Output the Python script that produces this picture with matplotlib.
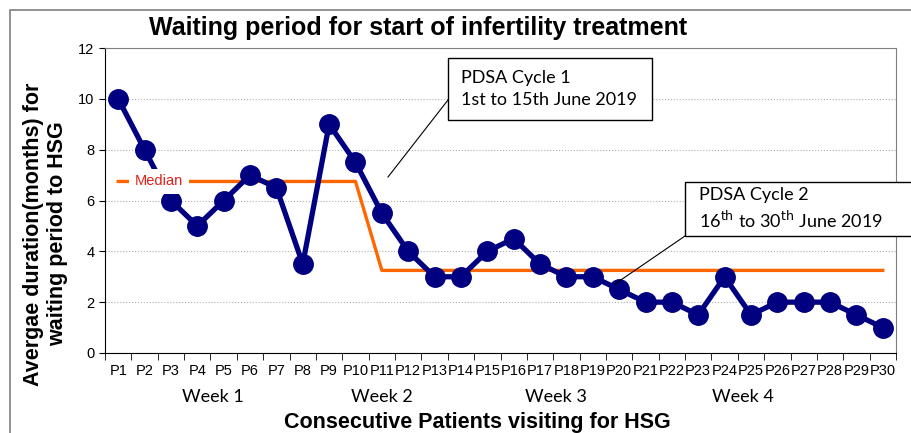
import matplotlib.pyplot as plt
from matplotlib.patches import Rectangle

patients = ["P%d" % i for i in range(1, 31)]
waiting = [10, 8, 6, 5, 6, 7, 6.5, 3.5, 9, 7.5,
           5.5, 4, 3, 3, 4, 4.5, 3.5, 3, 3, 2.5,
           2, 2, 1.5, 3, 1.5, 2, 2, 2, 1.5, 1]
median = [6.75] * 10 + [3.25] * 20
weeks = ["Week 1", "Week 2", "Week 3", "Week 4"]
week_pos = [4.6, 11.0, 17.6, 24.7]

plt.rcParams['font.family'] = ['Liberation Sans', 'DejaVu Sans']

fig = plt.figure(figsize=(9.11, 4.33), dpi=100)
ax = fig.add_axes([0.1153, 0.1848, 0.8682, 0.7042])

# outer chart frame
fig.patches.append(Rectangle((10 / 911, -0.1), 1.2, 1 - 10 / 433 + 0.1, transform=fig.transFigure,
                             fill=False, edgecolor='#808080', linewidth=1.2))

x = list(range(1, 31))
ax.plot(x, median, color='#FF6600', linewidth=2.4, zorder=2)
ax.plot(x, waiting, color='#000080', linewidth=3.8, marker='o', markersize=14, zorder=3)

ax.text(2.55, 6.75, "Median", color='#E0201B', fontsize=10.5, ha='center', va='center',
        bbox=dict(facecolor='white', edgecolor='none', pad=4), zorder=4)

ax.set_xlim(0.5, 30.5)
ax.set_ylim(0, 12)
ax.set_yticks(range(0, 13, 2))
ax.set_xticks(x)
ax.set_xticklabels(patients, fontsize=10.5)
ax.set_xticks([i + 0.5 for i in range(0, 31)], minor=True)
ax.tick_params(axis='x', which='major', length=0, pad=8)
ax.tick_params(axis='x', which='minor', length=5, direction='out')
ax.tick_params(axis='y', labelsize=10.5, length=4, direction='out')
ax.grid(axis='y', linestyle=':', color='#b0b0b0', linewidth=0.8)
ax.set_axisbelow(True)
for s in ['top', 'right']:
    ax.spines[s].set_color('#808080')

for w, p in zip(weeks, week_pos):
    ax.text(p, -1.72, w, fontsize=13, family=['Lato', 'DejaVu Sans'], ha='center', va='center',
            transform=ax.transData, clip_on=False)

fig.text(0.459, 0.935, "Waiting period for start of infertility treatment", fontsize=18,
         fontweight='bold', ha='center', va='center')
fig.text(0.524, 0.025, "Consecutive Patients visiting for HSG", fontsize=15.5,
         fontweight='bold', ha='center', va='center')
fig.text(0.05, 0.46, "Avergae duration(months) for\nwaiting period to HSG", fontsize=15.5,
         fontweight='bold', ha='center', va='center', rotation=90, linespacing=1.15)

# PDSA annotation boxes
box1 = Rectangle((448 / 911, 1 - 120 / 433), 204 / 911, 62 / 433, transform=fig.transFigure,
                 facecolor='white', edgecolor='black', linewidth=1, zorder=5)
fig.patches.append(box1)
fig.text(461 / 911, 1 - 89 / 433, "PDSA Cycle 1\n1st to 15th June 2019", fontsize=13,
         family=['Lato', 'DejaVu Sans'], va='center', ha='left', linespacing=1.5, zorder=6)
fig.lines.append(plt.Line2D([448 / 911, 388 / 911], [1 - 100 / 433, 1 - 177 / 433],
                            transform=fig.transFigure, color='black', linewidth=0.8))

box2 = Rectangle((685 / 911, 1 - 236 / 433), 240 / 911, 54 / 433, transform=fig.transFigure,
                 facecolor='white', edgecolor='black', linewidth=1, zorder=5)
fig.patches.append(box2)
fig.text(699 / 911, 1 - 209 / 433, "PDSA Cycle 2\n16$^{\\rm th}$ to 30$^{\\rm th}$ June 2019", fontsize=13,
         family=['Lato', 'DejaVu Sans'], va='center', ha='left', linespacing=1.4, zorder=6)
fig.lines.append(plt.Line2D([685 / 911, 615 / 911], [1 - 236 / 433, 1 - 284 / 433],
                            transform=fig.transFigure, color='black', linewidth=0.8))

fig.savefig("out.png", dpi=100)
